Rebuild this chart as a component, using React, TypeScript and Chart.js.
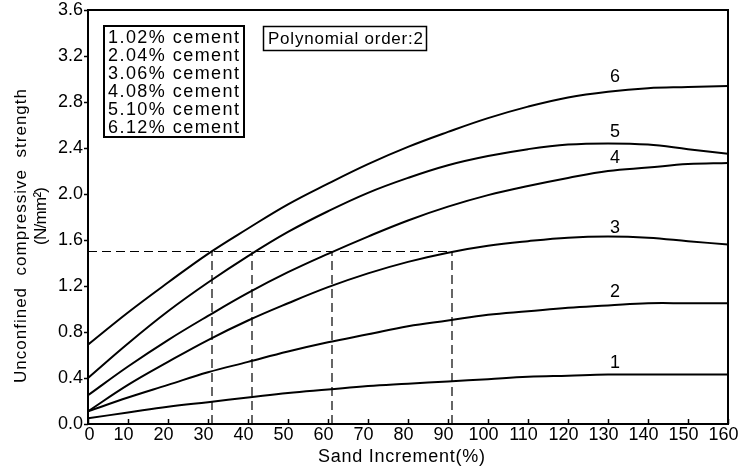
import React, { useEffect, useRef } from "react";
import { Chart, registerables } from "chart.js";

Chart.register(...registerables);

// ---- data ----
const sandIncrement = [0, 10, 20, 30, 40, 50, 60, 70, 80, 90, 100, 110, 120, 130, 140, 150, 160];
const cement02 = [0.05, 0.1, 0.15, 0.19, 0.23, 0.27, 0.3, 0.33, 0.35, 0.37, 0.39, 0.41, 0.42, 0.43, 0.43, 0.43, 0.43];
const cement04 = [0.11, 0.23, 0.34, 0.45, 0.54, 0.63, 0.71, 0.78, 0.85, 0.9, 0.95, 0.98, 1.01, 1.03, 1.05, 1.05, 1.05];
const cement06 = [0.11, 0.34, 0.54, 0.73, 0.9, 1.05, 1.19, 1.31, 1.41, 1.49, 1.55, 1.59, 1.62, 1.63, 1.62, 1.59, 1.56];
const cement08 = [0.25, 0.5, 0.73, 0.94, 1.14, 1.32, 1.48, 1.63, 1.77, 1.89, 1.99, 2.07, 2.14, 2.2, 2.23, 2.26, 2.27];
const cement10 = [0.4, 0.7, 0.98, 1.23, 1.46, 1.67, 1.85, 2.01, 2.14, 2.25, 2.33, 2.39, 2.43, 2.44, 2.43, 2.39, 2.35];
const cement12 = [0.69, 0.97, 1.23, 1.48, 1.7, 1.91, 2.09, 2.26, 2.41, 2.54, 2.66, 2.76, 2.84, 2.89, 2.92, 2.93, 2.94];
const allSeries = [cement02, cement04, cement06, cement08, cement10, cement12];

const legendLines = ["1.02% cement", "2.04% cement", "3.06% cement", "4.08% cement", "5.10% cement", "6.12% cement"];
const curveNumbers = ["1", "2", "3", "4", "5", "6"];
const curveNumberX = 131.75;
const curveNumberY = [0.53, 1.15, 1.7, 2.31, 2.54, 3.02];
const noteText = "Polynomial order:2";
const xTitle = "Sand Increment(%)";
const yTitle1 = "Unconfined  compressive  strength";
const yTitle2 = "(N/mm\u00B2)";

const refStrength = 1.5;
const refSand = [31, 41, 61, 91];

const FONT = '"Liberation Sans", Arial, sans-serif';

function drawFitted(ctx: CanvasRenderingContext2D, text: string, x: number, y: number, width: number) {
  ctx.letterSpacing = "0px";
  const natural = ctx.measureText(text).width;
  const s = (width - natural) / Math.max(1, text.length - 1);
  ctx.letterSpacing = s + "px";
  ctx.textAlign = "left";
  ctx.fillText(text, x, y);
  ctx.letterSpacing = "0px";
}

const overlay = {
  id: "overlay",
  afterDraw(chart: any) {
    const { ctx, chartArea: a, scales } = chart;
    const xs = scales.x;
    const ys = scales.y;
    ctx.save();
    ctx.strokeStyle = "#000";
    ctx.fillStyle = "#000";
    // frame
    ctx.lineWidth = 2;
    ctx.strokeRect(a.left, a.top, a.right - a.left, a.bottom - a.top);
    // ticks + x tick labels
    ctx.lineWidth = 1.5;
    ctx.font = "18px " + FONT;
    ctx.textBaseline = "top";
    xs.ticks.forEach((t: any) => {
      const px = Math.round(xs.getPixelForValue(t.value)) + 0.5;
      ctx.beginPath();
      ctx.moveTo(px, a.bottom);
      ctx.lineTo(px, a.bottom - 5);
      ctx.stroke();
      const label = String(t.value);
      ctx.textAlign = "center";
      ctx.fillText(label, px + (label.length > 1 ? -5 : 1), a.bottom + 2);
    });
    ys.ticks.forEach((t: any) => {
      const py = Math.round(ys.getPixelForValue(t.value)) + 0.5;
      ctx.beginPath();
      ctx.moveTo(a.left - 4, py);
      ctx.lineTo(a.left, py);
      ctx.stroke();
    });
    // legend box
    ctx.lineWidth = 2;
    ctx.strokeRect(104, 26, 140, 111);
    ctx.font = "18px " + FONT;
    ctx.textBaseline = "alphabetic";
    legendLines.forEach((txt, i) => {
      drawFitted(ctx, txt, 108, 43 + i * 18, 131);
    });
    // note box
    ctx.lineWidth = 1.5;
    ctx.strokeRect(263.5, 26.5, 163, 24);
    ctx.font = "17px " + FONT;
    drawFitted(ctx, noteText, 268, 44, 155);
    // curve numbers
    ctx.font = "18px " + FONT;
    ctx.textAlign = "center";
    ctx.textBaseline = "middle";
    curveNumbers.forEach((n, i) => {
      ctx.fillText(n, xs.getPixelForValue(curveNumberX), ys.getPixelForValue(curveNumberY[i]));
    });
    // x title
    ctx.font = "18px " + FONT;
    ctx.textBaseline = "alphabetic";
    drawFitted(ctx, xTitle, 318, 462, 167);
    // y title
    ctx.save();
    ctx.translate(26, 236);
    ctx.rotate(-Math.PI / 2);
    ctx.font = "17px " + FONT;
    drawFitted(ctx, yTitle1, -147, 0, 294);
    ctx.restore();
    ctx.save();
    ctx.translate(46, 216);
    ctx.rotate(-Math.PI / 2);
    ctx.font = "17px " + FONT;
    drawFitted(ctx, yTitle2, -29, 0, 58);
    ctx.restore();
    ctx.restore();
  },
};

export default function App() {
  const ref = useRef<HTMLCanvasElement | null>(null);
  useEffect(() => {
    if (!ref.current) return;
    const curveSets = allSeries.map((vals) => ({
      data: sandIncrement.map((x, i) => ({ x, y: vals[i] })),
      borderColor: "#000",
      borderWidth: 2,
      pointRadius: 0,
      tension: 0.4,
      fill: false,
    }));
    const dashStyle = {
      borderColor: "#000",
      borderWidth: 1.2,
      borderDash: [9, 5],
      pointRadius: 0,
      tension: 0,
      fill: false,
    };
    const refSets = [
      { data: [{ x: 0, y: refStrength }, { x: refSand[refSand.length - 1], y: refStrength }], ...dashStyle },
      ...refSand.map((s) => ({ data: [{ x: s, y: 0 }, { x: s, y: refStrength }], ...dashStyle })),
    ];
    const chart = new Chart(ref.current, {
      type: "line",
      data: { datasets: [...curveSets, ...refSets] as any },
      options: {
        animation: false,
        responsive: true,
        maintainAspectRatio: false,
        layout: { padding: { left: 0, top: 10, right: 12, bottom: 0 } },
        plugins: { legend: { display: false }, tooltip: { enabled: false } },
        scales: {
          x: {
            type: "linear",
            min: 0,
            max: 160,
            grid: { display: false, drawTicks: false },
            border: { display: false },
            ticks: { stepSize: 10, display: false, autoSkip: false },
            afterFit: (s: any) => {
              s.height = 45;
              s.paddingLeft = 0;
              s.paddingRight = 0;
            },
          },
          y: {
            type: "linear",
            min: 0,
            max: 3.6,
            grid: { display: false, drawTicks: false },
            border: { display: false },
            ticks: {
              stepSize: 0.4,
              color: "#000",
              font: { size: 18, family: FONT },
              padding: 5,
              callback: (v: any) => Number(v).toFixed(1),
            },
            afterFit: (s: any) => {
              s.width = 88;
              s.paddingTop = 0;
              s.paddingBottom = 0;
            },
          },
        },
      },
      plugins: [overlay],
    });
    return () => chart.destroy();
  }, []);
  return (
    <div style={{ position: "absolute", left: 0, top: 0, width: 740, height: 469, background: "#fff" }}>
      <canvas ref={ref} />
    </div>
  );
}
